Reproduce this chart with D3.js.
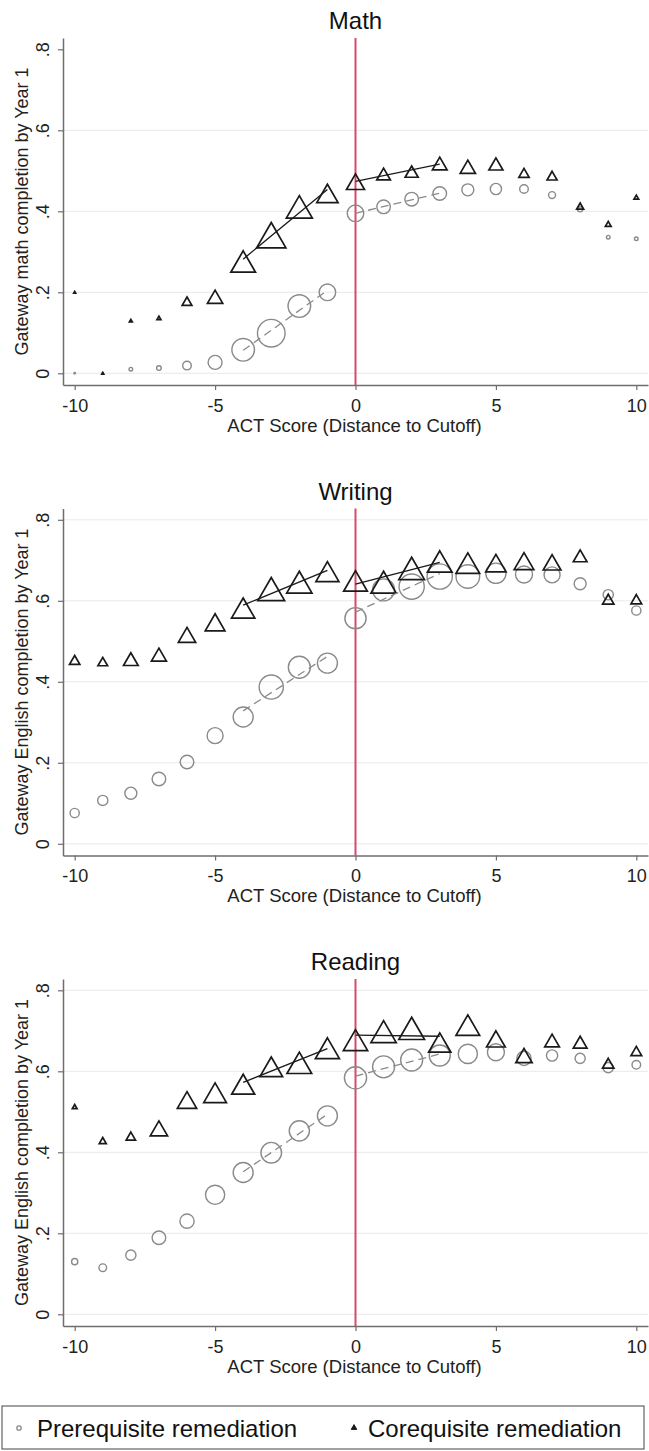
<!DOCTYPE html>
<html>
<head>
<meta charset="utf-8">
<script src="https://cdn.jsdelivr.net/npm/d3@7"></script>
<style>
  body { margin: 0; background: #fff; }
  svg text { font-family: "Liberation Sans", Arial, Helvetica, sans-serif; }
</style>
</head>
<body>
<svg id="chart" width="649" height="1451"></svg>
<script>
// ACT score distance to cutoff
const scores = [-10, -9, -8, -7, -6, -5, -4, -3, -2, -1, 0, 1, 2, 3, 4, 5, 6, 7, 8, 9, 10];

// Math
const mathPre = [0, 0, 0.010, 0.013, 0.019, 0.027, 0.058, 0.099, 0.166, 0.200, 0.395, 0.411, 0.430, 0.444, 0.453, 0.455, 0.455, 0.440, 0.405, 0.336, 0.332];
const mathCo  = [0.200, 0, 0.130, 0.137, 0.178, 0.189, 0.276, 0.341, 0.411, 0.444, 0.473, 0.492, 0.498, 0.518, 0.510, 0.517, 0.495, 0.488, 0.413, 0.369, 0.435];
const mathPreN = [3, 3, 17, 27, 94, 250, 651, 971, 651, 351, 351, 236, 236, 236, 184, 160, 94, 62, 34, 17, 17];
const mathCoN  = [3, 3, 7, 13, 77, 191, 498, 700, 552, 370, 264, 153, 138, 176, 191, 160, 87, 82, 40, 27, 18];

// Writing
const writingPre = [0.076, 0.107, 0.125, 0.160, 0.202, 0.267, 0.313, 0.387, 0.436, 0.446, 0.557, 0.627, 0.635, 0.660, 0.660, 0.668, 0.665, 0.664, 0.642, 0.615, 0.576];
const writingCo  = [0.454, 0.450, 0.456, 0.467, 0.516, 0.547, 0.582, 0.629, 0.646, 0.672, 0.649, 0.646, 0.680, 0.697, 0.693, 0.693, 0.698, 0.695, 0.711, 0.604, 0.604];
const writingPreN = [108, 133, 184, 236, 236, 326, 510, 747, 617, 510, 573, 617, 810, 810, 710, 520, 368, 326, 184, 133, 108];
const writingCoN  = [87, 77, 176, 184, 244, 317, 443, 582, 522, 432, 458, 522, 539, 498, 458, 336, 317, 256, 153, 104, 93];

// Reading
const readingPre = [0.130, 0.115, 0.146, 0.189, 0.230, 0.295, 0.350, 0.399, 0.453, 0.490, 0.584, 0.611, 0.628, 0.639, 0.643, 0.647, 0.632, 0.639, 0.632, 0.609, 0.616];
const readingCo  = [0.513, 0.429, 0.440, 0.459, 0.529, 0.547, 0.568, 0.611, 0.621, 0.657, 0.677, 0.698, 0.706, 0.671, 0.714, 0.680, 0.639, 0.676, 0.672, 0.620, 0.650];
const readingPreN = [49, 74, 133, 236, 257, 470, 510, 541, 520, 510, 628, 617, 617, 562, 470, 368, 257, 160, 133, 133, 94];
const readingCoN  = [18, 40, 71, 244, 304, 420, 432, 420, 498, 470, 482, 522, 539, 406, 458, 285, 217, 176, 153, 104, 93];

const xTicks = [-10, -5, 0, 5, 10];
const yTicks = [0, 0.2, 0.4, 0.6, 0.8];
const fitWindows = [[-4, -1], [0, 3]];
const legendLabels = ["Prerequisite remediation", "Corequisite remediation"];

const panels = [
    { title: "Math", yLabel: "Gateway math completion by Year 1", pre: mathPre, co: mathCo, preN: mathPreN, coN: mathCoN, gridTop: false },
    { title: "Writing", yLabel: "Gateway English completion by Year 1", pre: writingPre, co: writingCo, preN: writingPreN, coN: writingCoN, gridTop: true },
    { title: "Reading", yLabel: "Gateway English completion by Year 1", pre: readingPre, co: readingCo, preN: readingPreN, coN: readingCoN, gridTop: true }
];

const svg = d3.select("#chart");

const plotLeft = 63,
    plotRight = 648,
    plotHeight = 347,
    panelTops = [38, 508.5, 979],
    preColor = "#8a8a8a",
    coColor = "#1a1a1a",
    cutColor = "#d8486f",
    axisColor = "#6e6e6e";

// pad the data range the way the original plot region does
const x = d3.scaleLinear()
    .domain([-10.416, 10.416])
    .range([plotLeft, plotRight]);

const y = d3.scaleLinear()
    .domain([-0.0289, 0.8279])
    .range([plotHeight, 0]);

// marker size by cell count
const rScale = d3.scaleSqrt().domain([0, 1000]).range([0, 14]);
const sideScale = d3.scaleSqrt().domain([0, 1000]).range([0, 35]);

function trianglePath(w) {
    const h = w * Math.sqrt(3) / 2;
    return "M0," + (-h / 2) + "L" + (w / 2) + "," + (h / 2) + "L" + (-w / 2) + "," + (h / 2) + "Z";
}

// simple OLS fit within a window of scores
function fitLine(vals, win) {
    const pts = scores.map((s, i) => ({ x: s, y: vals[i] }))
        .filter(d => d.x >= win[0] && d.x <= win[1]);
    const mx = d3.mean(pts, d => d.x),
        my = d3.mean(pts, d => d.y);
    const slope = d3.sum(pts, d => (d.x - mx) * (d.y - my)) / d3.sum(pts, d => (d.x - mx) * (d.x - mx));
    return win.map(v => ({ x: v, y: my + slope * (v - mx) }));
}

const yFormat = d => d === 0 ? "0" : d3.format(".1f")(d).replace(/^0/, "");

panels.forEach((p, pi) => {
    const g = svg.append("g")
        .attr("transform", "translate(0," + panelTops[pi] + ")");

    // title
    g.append("text")
        .attr("x", 355.5)
        .attr("y", -9)
        .attr("text-anchor", "middle")
        .attr("font-size", "24px")
        .attr("fill", "#111")
        .text(p.title);

    // gridlines
    g.append("g")
        .selectAll("line")
        .data(yTicks.filter(t => p.gridTop || t < 0.8))
        .join("line")
        .attr("x1", plotLeft)
        .attr("x2", plotRight)
        .attr("y1", d => y(d))
        .attr("y2", d => y(d))
        .attr("stroke", "#e9e9e9")
        .attr("stroke-width", 1);

    // cutoff line
    g.append("line")
        .attr("x1", x(0))
        .attr("x2", x(0))
        .attr("y1", 0)
        .attr("y2", plotHeight)
        .attr("stroke", cutColor)
        .attr("stroke-width", 2);

    // axes
    let xAxis = g.append("g")
        .attr("transform", "translate(0," + plotHeight + ")")
        .call(d3.axisBottom(x).tickValues(xTicks).tickSize(5).tickSizeOuter(0).tickFormat(d => String(d)));

    let yAxis = g.append("g")
        .attr("transform", "translate(" + plotLeft + ",0)")
        .call(d3.axisLeft(y).tickValues(yTicks).tickSize(5).tickSizeOuter(0).tickFormat(yFormat));

    [xAxis, yAxis].forEach(a => {
        a.select(".domain").attr("stroke", axisColor).attr("stroke-width", 1.5);
        a.selectAll(".tick line").attr("stroke", axisColor).attr("stroke-width", 1.2);
        a.selectAll(".tick text")
            .attr("fill", "#222")
            .attr("font-size", "18px")
            .attr("font-family", null);
    });

    xAxis.selectAll(".tick text")
        .attr("y", 26.5)
        .attr("dy", 0);

    yAxis.selectAll(".tick text")
        .attr("transform", "rotate(-90)")
        .attr("text-anchor", "middle")
        .attr("x", 0)
        .attr("y", -14)
        .attr("dy", 0);

    // axis titles
    g.append("text")
        .attr("x", 354.5)
        .attr("y", 393.5)
        .attr("text-anchor", "middle")
        .attr("font-size", "18.5px")
        .attr("fill", "#222")
        .text("ACT Score (Distance to Cutoff)");

    g.append("text")
        .attr("transform", "translate(28," + (plotHeight / 2) + ") rotate(-90)")
        .attr("text-anchor", "middle")
        .attr("font-size", "18px")
        .attr("fill", "#222")
        .text(p.yLabel);

    // prerequisite circles
    g.append("g")
        .selectAll("circle")
        .data(scores.map((s, i) => ({ x: s, y: p.pre[i], n: p.preN[i] })))
        .join("circle")
        .attr("cx", d => x(d.x))
        .attr("cy", d => y(d.y))
        .attr("r", d => rScale(d.n))
        .attr("fill", "none")
        .attr("stroke", preColor)
        .attr("stroke-width", 1.4);

    // corequisite triangles
    g.append("g")
        .selectAll("path")
        .data(scores.map((s, i) => ({ x: s, y: p.co[i], n: p.coN[i] })))
        .join("path")
        .attr("transform", d => "translate(" + x(d.x) + "," + y(d.y) + ")")
        .attr("d", d => trianglePath(sideScale(d.n)))
        .attr("fill", "none")
        .attr("stroke", coColor)
        .attr("stroke-width", 1.7)
        .attr("stroke-linejoin", "miter");

    // local linear fits on each side of the cutoff
    const line = d3.line().x(d => x(d.x)).y(d => y(d.y));

    fitWindows.forEach(win => {
        g.append("path")
            .datum(fitLine(p.pre, win))
            .attr("d", line)
            .attr("fill", "none")
            .attr("stroke", preColor)
            .attr("stroke-width", 1.3)
            .attr("stroke-dasharray", "8,5");

        g.append("path")
            .datum(fitLine(p.co, win))
            .attr("d", line)
            .attr("fill", "none")
            .attr("stroke", coColor)
            .attr("stroke-width", 1.3);
    });
});

// legend
let legend = svg.append("g")
    .attr("transform", "translate(2,1406)");

legend.append("rect")
    .attr("width", 642)
    .attr("height", 43)
    .attr("fill", "#fff")
    .attr("stroke", "#444")
    .attr("stroke-width", 1);

legend.append("circle")
    .attr("cx", 17)
    .attr("cy", 22)
    .attr("r", 2.2)
    .attr("fill", "none")
    .attr("stroke", preColor)
    .attr("stroke-width", 1.3);

legend.append("path")
    .attr("transform", "translate(352,21)")
    .attr("d", trianglePath(5.5))
    .attr("fill", coColor)
    .attr("stroke", coColor)
    .attr("stroke-width", 1);

legend.append("text")
    .attr("x", 35)
    .attr("y", 31)
    .attr("font-size", "24px")
    .attr("fill", "#111")
    .text(legendLabels[0]);

legend.append("text")
    .attr("x", 366)
    .attr("y", 31)
    .attr("font-size", "24px")
    .attr("fill", "#111")
    .text(legendLabels[1]);
</script>
</body>
</html>
